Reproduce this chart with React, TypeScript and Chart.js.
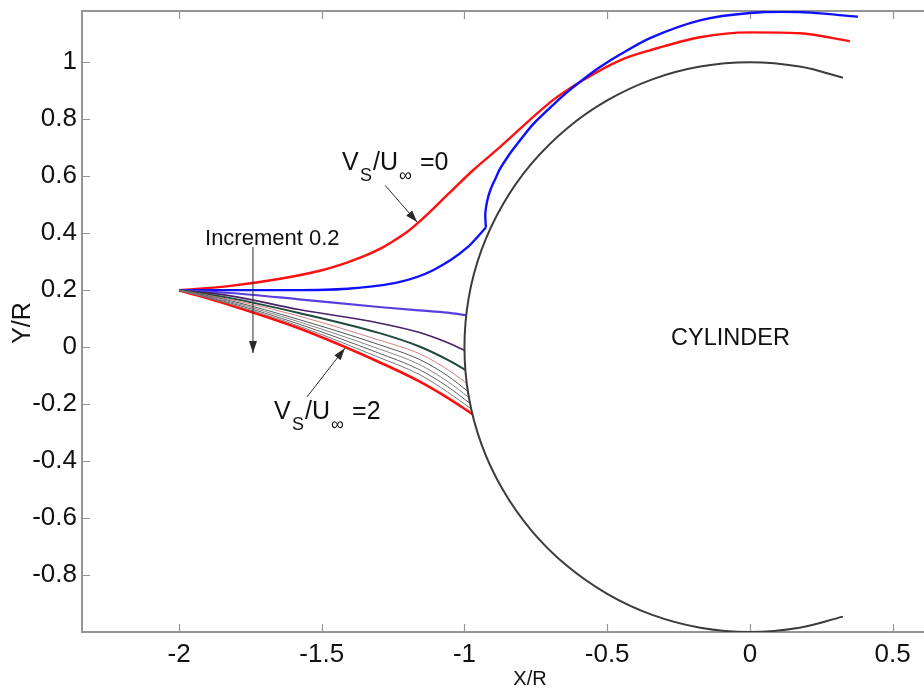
import React, { useEffect, useRef } from "react";
import { Chart, registerables } from "chart.js";
Chart.register(...registerables);

const FONT = "'Liberation Sans', Arial, sans-serif";

// Axis ticks
const xTicks = [-2, -1.5, -1, -0.5, 0, 0.5];
const yTicks = [-0.8, -0.6, -0.4, -0.2, 0, 0.2, 0.4, 0.6, 0.8, 1];

// Vs/U = 0 (red, upper)
const vs00X = [-2, -1.82, -1.646, -1.5, -1.412, -1.35, -1.3, -1.25, -1.2, -1.156, -1.051, -0.97, -0.876, -0.69, -0.585, -0.455, -0.35, -0.175, 0, 0.175, 0.35];
const vs00Y = [0.2, 0.215, 0.24, 0.27, 0.297, 0.32, 0.343, 0.372, 0.405, 0.442, 0.543, 0.621, 0.702, 0.867, 0.937, 1.007, 1.042, 1.088, 1.105, 1.102, 1.074];

// Vs/U = 0.2 (blue): lower branch up to the cusp, then upper branch
const vs02aX = [-2, -1.8, -1.6, -1.41, -1.23, -1.11, -0.99, -0.925];
const vs02aY = [0.2, 0.2, 0.2, 0.205, 0.228, 0.27, 0.35, 0.42];
const vs02bX = [-0.925, -0.927, -0.92, -0.908, -0.89, -0.876, -0.846, -0.816, -0.76, -0.69, -0.64, -0.58, -0.525, -0.455, -0.35, -0.175, 0, 0.175, 0.378];
const vs02bY = [0.42, 0.47, 0.515, 0.555, 0.595, 0.625, 0.672, 0.712, 0.782, 0.85, 0.895, 0.943, 0.983, 1.027, 1.085, 1.147, 1.173, 1.176, 1.16];

// Bundle of lower curves, Vs/U = 0.4 ... 2.0
const bundleX = [-2, -1.82, -1.58, -1.3, -1.16, -1.06];
const bundleEndX = [-0.994, -1.0, -0.997, -0.992, -0.988, -0.984, -0.98, -0.976, -0.972];
const vs04Y = [0.2, 0.19, 0.168, 0.141, 0.129, 0.121, 0.112];
const vs06Y = [0.2, 0.18, 0.132, 0.085, 0.052, 0.016, -0.011];
const vs08Y = [0.2, 0.172, 0.12, 0.05, 0.003, -0.044, -0.08];
const vs10Y = [0.2, 0.167, 0.109, 0.025, -0.022, -0.078, -0.127];
const vs12Y = [0.2, 0.163, 0.097, 0.009, -0.042, -0.1, -0.155];
const vs14Y = [0.2, 0.159, 0.089, -0.006, -0.06, -0.12, -0.177];
const vs16Y = [0.2, 0.155, 0.081, -0.021, -0.078, -0.138, -0.198];
const vs18Y = [0.2, 0.151, 0.074, -0.036, -0.095, -0.157, -0.217];
const vs20Y = [0.2, 0.147, 0.066, -0.052, -0.119, -0.177, -0.235];

// Cylinder outline (unit radius)
const cylX = [0.326, 0.174, 0, -0.174, -0.342, -0.5, -0.643, -0.766, -0.866, -0.94, -0.985, -1, -0.985, -0.94, -0.866, -0.766, -0.643, -0.5, -0.342, -0.174, 0, 0.174, 0.326];
const cylY = [0.946, 0.985, 1, 0.985, 0.94, 0.866, 0.766, 0.643, 0.5, 0.342, 0.174, 0, -0.174, -0.342, -0.5, -0.643, -0.766, -0.866, -0.94, -0.985, -1, -0.985, -0.946];

// Annotations (data coordinates)
const label0Pos = [-1.429, 0.621];
const arrow0 = [-1.278, 0.568, -1.166, 0.439];
const incPos = [-1.909, 0.358];
const incArrow = [-1.741, 0.351, -1.741, -0.021];
const label2Pos = [-1.667, -0.253];
const arrow2 = [-1.552, -0.175, -1.419, -0.004];
const cylLabelPos = [-0.068, 0.032];

const pts = (xs: number[], ys: number[]) => xs.map((x, i) => ({ x, y: ys[i] }));
const bundlePts = (ys: number[], i: number) =>
  [...bundleX, bundleEndX[i]].map((x, k) => ({ x, y: ys[k] }));

function drawArrow(ctx: CanvasRenderingContext2D, x1: number, y1: number, x2: number, y2: number) {
  ctx.beginPath();
  ctx.moveTo(x1, y1);
  ctx.lineTo(x2, y2);
  ctx.stroke();
  const ang = Math.atan2(y2 - y1, x2 - x1);
  const L = 12, W = 4;
  ctx.beginPath();
  ctx.moveTo(x2, y2);
  ctx.lineTo(x2 - L * Math.cos(ang) + W * Math.sin(ang), y2 - L * Math.sin(ang) - W * Math.cos(ang));
  ctx.lineTo(x2 - L * Math.cos(ang) - W * Math.sin(ang), y2 - L * Math.sin(ang) + W * Math.cos(ang));
  ctx.closePath();
  ctx.fill();
}

function drawRatio(ctx: CanvasRenderingContext2D, x: number, y: number, v: string) {
  ctx.textAlign = "left";
  ctx.textBaseline = "alphabetic";
  ctx.font = `25px ${FONT}`;
  ctx.fillText("V", x, y);
  ctx.font = `18px ${FONT}`;
  ctx.fillText("S", x + 18, y + 11);
  ctx.font = `25px ${FONT}`;
  ctx.fillText("/U", x + 31, y);
  ctx.font = `18px ${FONT}`;
  ctx.fillText("\u221E", x + 57, y + 11);
  ctx.font = `25px ${FONT}`;
  ctx.fillText("=" + v, x + 78, y);
}

const framePlugin = {
  id: "frame",
  beforeDatasetsDraw(chart: any) {
    const { ctx, chartArea: a, scales } = chart;
    ctx.save();
    ctx.strokeStyle = "#959595";
    ctx.lineWidth = 2;
    ctx.beginPath();
    ctx.moveTo(a.right + 5, a.top);
    ctx.lineTo(a.left, a.top);
    ctx.lineTo(a.left, a.bottom);
    ctx.lineTo(a.right + 5, a.bottom);
    ctx.stroke();
    ctx.lineWidth = 1.2;
    ctx.beginPath();
    for (const v of xTicks) {
      const px = Math.round(scales.x.getPixelForValue(v)) + 0.5;
      ctx.moveTo(px, a.bottom);
      ctx.lineTo(px, a.bottom - 8);
      ctx.moveTo(px, a.top);
      ctx.lineTo(px, a.top + 8);
    }
    for (const v of yTicks) {
      const py = Math.round(scales.y.getPixelForValue(v)) + 0.5;
      ctx.moveTo(a.left, py);
      ctx.lineTo(a.left + 8, py);
    }
    ctx.stroke();
    ctx.restore();
  },
  afterDraw(chart: any) {
    const { ctx, scales } = chart;
    const X = (v: number) => scales.x.getPixelForValue(v);
    const Y = (v: number) => scales.y.getPixelForValue(v);
    ctx.save();
    ctx.fillStyle = "#111";
    ctx.strokeStyle = "#2a2a2a";
    ctx.lineWidth = 1;
    drawRatio(ctx, X(label0Pos[0]), Y(label0Pos[1]), "0");
    drawRatio(ctx, X(label2Pos[0]), Y(label2Pos[1]), "2");
    ctx.fillStyle = "#2a2a2a";
    drawArrow(ctx, X(arrow0[0]), Y(arrow0[1]), X(arrow0[2]), Y(arrow0[3]));
    drawArrow(ctx, X(arrow2[0]), Y(arrow2[1]), X(arrow2[2]), Y(arrow2[3]));
    drawArrow(ctx, X(incArrow[0]), Y(incArrow[1]), X(incArrow[2]), Y(incArrow[3]));
    ctx.fillStyle = "#111";
    ctx.font = `22px ${FONT}`;
    ctx.textAlign = "left";
    ctx.textBaseline = "alphabetic";
    ctx.fillText("Increment 0.2", X(incPos[0]), Y(incPos[1]));
    ctx.font = `23.5px ${FONT}`;
    ctx.textAlign = "center";
    ctx.textBaseline = "middle";
    ctx.fillText("CYLINDER", X(cylLabelPos[0]), Y(cylLabelPos[1]));
    // axis titles
    ctx.font = `20px ${FONT}`;
    ctx.fillText("X/R", 530, 679);
    ctx.save();
    ctx.translate(23, 323);
    ctx.rotate(-Math.PI / 2);
    ctx.font = `25px ${FONT}`;
    ctx.fillText("Y/R", 0, 0);
    ctx.restore();
    ctx.restore();
  },
};

export default function App() {
  const ref = useRef<HTMLCanvasElement>(null);
  useEffect(() => {
    const line = (data: any[], color: string, width: number, mono = true, tension = 0.3) => ({
      data,
      borderColor: color,
      backgroundColor: color,
      borderWidth: width,
      showLine: true,
      pointRadius: 0,
      tension,
      cubicInterpolationMode: mono ? "monotone" : "default",
      fill: false,
    });
    const chart = new Chart(ref.current!, {
      type: "scatter",
      data: {
        datasets: [
          line(pts(cylX, cylY), "#3c3c3c", 2, false, 0.4),
          line(bundlePts(vs18Y, 7), "#7a7a7a", 1),
          line(bundlePts(vs16Y, 6), "#5e5e5e", 1),
          line(bundlePts(vs14Y, 5), "#858585", 1),
          line(bundlePts(vs12Y, 4), "#555555", 1),
          line(bundlePts(vs10Y, 3), "#d88080", 1),
          line(bundlePts(vs08Y, 2), "#1e4a3c", 2),
          line(bundlePts(vs06Y, 1), "#4a2068", 1.6),
          line(bundlePts(vs04Y, 0), "#5a3ee0", 2.2),
          line(bundlePts(vs20Y, 8), "#ff1010", 2.6),
          line(pts(vs02aX, vs02aY), "#1010ff", 2.4),
          line(pts(vs02bX, vs02bY), "#1010ff", 2.4, false, 0.3),
          line(pts(vs00X, vs00Y), "#ff1010", 2.4),
        ],
      },
      options: {
        animation: false,
        responsive: false,
        devicePixelRatio: 1,
        layout: { padding: { top: 11, right: 0, left: 0, bottom: 0 } },
        plugins: { legend: { display: false }, tooltip: { enabled: false } },
        scales: {
          x: {
            type: "linear",
            min: -2.34,
            max: 0.61,
            afterBuildTicks: (s: any) => {
              s.ticks = xTicks.map((v) => ({ value: v }));
            },
            afterFit: (s: any) => {
              s.height = 57;
              s.paddingLeft = 0;
              s.paddingRight = 0;
            },
            grid: { display: false, drawTicks: false },
            border: { display: false },
            ticks: {
              autoSkip: false,
              maxRotation: 0,
              padding: 7,
              color: "#111",
              font: { family: FONT, size: 26 },
              callback: (v: any) => String(v),
            },
          },
          y: {
            type: "linear",
            min: -1.0,
            max: 1.18,
            afterBuildTicks: (s: any) => {
              s.ticks = yTicks.map((v) => ({ value: v }));
            },
            afterFit: (s: any) => {
              s.width = 82;
              s.paddingTop = 0;
              s.paddingBottom = 0;
            },
            grid: { display: false, drawTicks: false },
            border: { display: false },
            ticks: {
              autoSkip: false,
              padding: 5,
              color: "#111",
              font: { family: FONT, size: 26 },
              callback: (v: any) => String(v),
            },
          },
        },
      },
      plugins: [framePlugin],
    } as any);
    return () => chart.destroy();
  }, []);
  return (
    <div style={{ position: "fixed", left: 0, top: 0, width: 924, height: 689, background: "#fff" }}>
      <canvas ref={ref} width={924} height={689} style={{ display: "block" }} />
    </div>
  );
}
